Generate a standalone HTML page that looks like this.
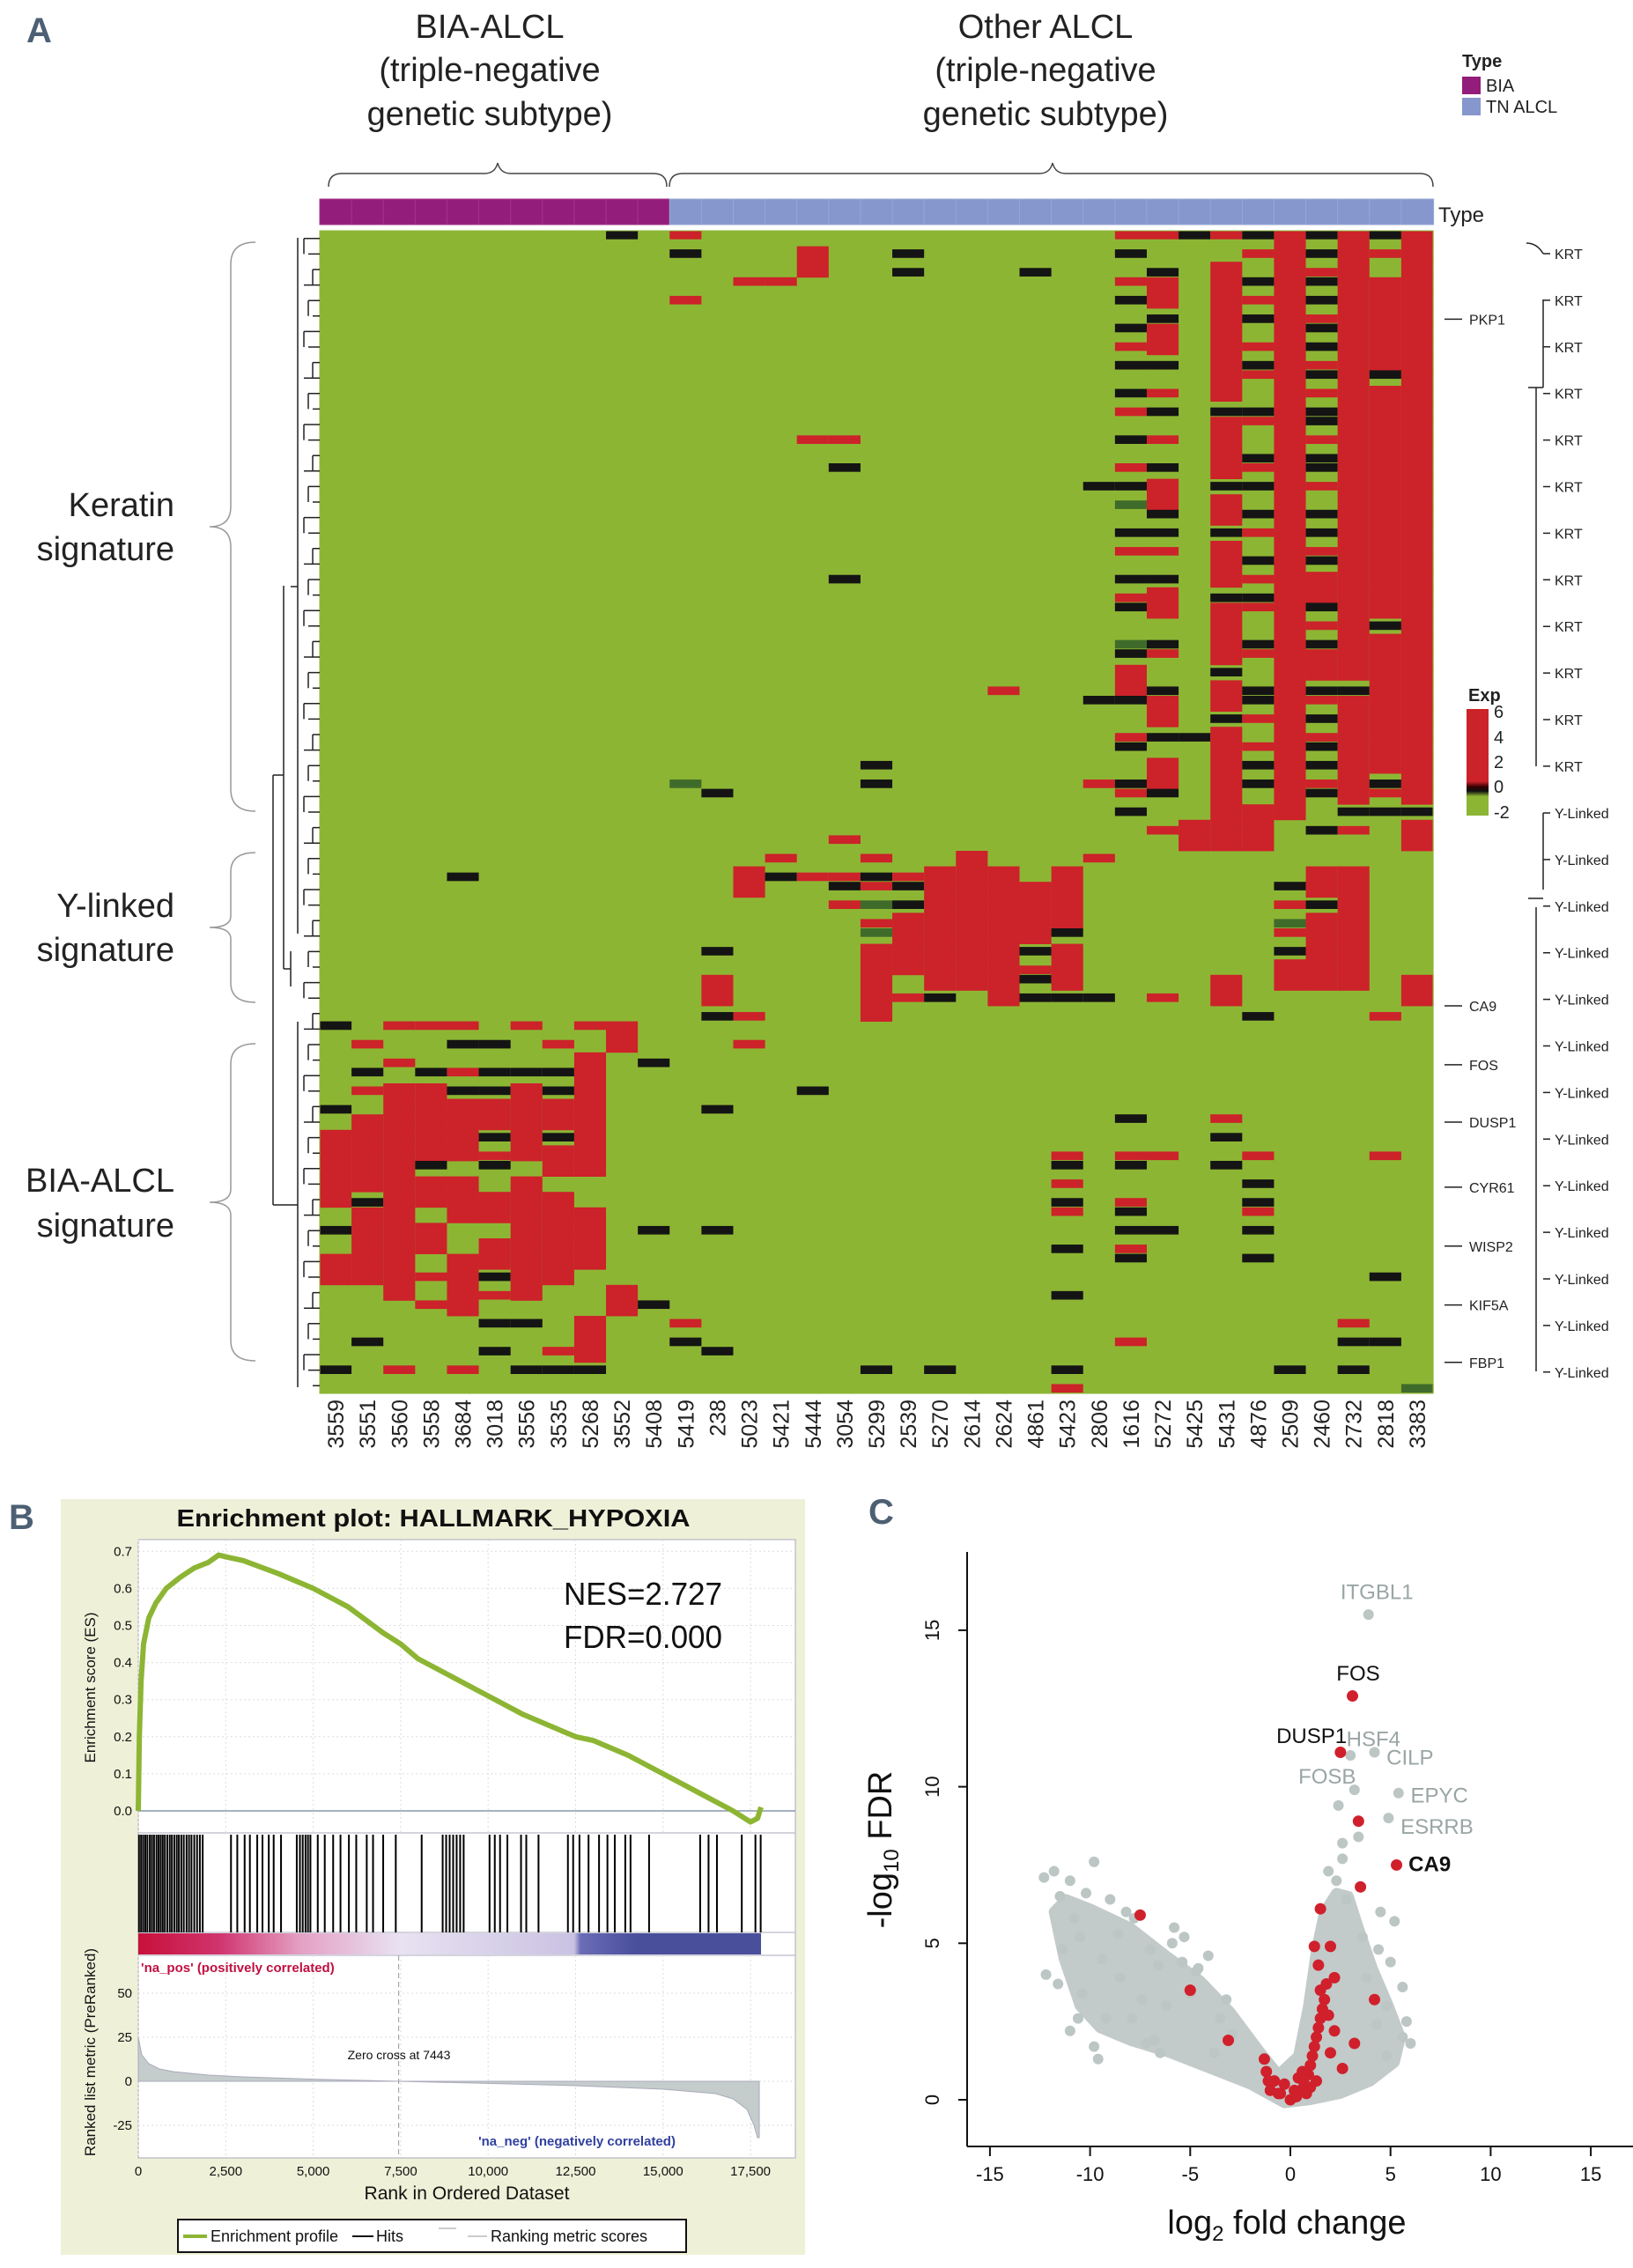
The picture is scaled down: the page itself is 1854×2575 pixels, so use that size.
<!DOCTYPE html>
<html><head><meta charset="utf-8"><style>
html,body{margin:0;padding:0;background:#fff;}
svg{display:block;font-family:"Liberation Sans",sans-serif;}
.nar{font-family:"Liberation Sans Narrow","Liberation Sans",sans-serif;}
</style></head><body>
<svg id="fig" width="1854" height="2575" viewBox="0 0 1854 2575" xmlns="http://www.w3.org/2000/svg">
<g id="panelA">
<text x="30" y="48" font-size="40" font-weight="bold" fill="#4d5f73" class="nar">A</text>
<g font-size="38" fill="#222" text-anchor="middle" class="nar">
<text x="556" y="43">BIA-ALCL</text><text x="556" y="92">(triple-negative</text><text x="556" y="142">genetic subtype)</text></g>
<g font-size="38" fill="#222" text-anchor="middle" class="nar">
<text x="1187" y="43">Other ALCL</text><text x="1187" y="92">(triple-negative</text><text x="1187" y="142">genetic subtype)</text></g>
<path d="M373,212 Q373,197 388,197 L550,197 Q562,197 565,185 Q568,197 580,197 L742,197 Q757,197 757,212" fill="none" stroke="#444" stroke-width="1.5"/>
<path d="M760,212 Q760,197 775,197 L1180,197 Q1192,197 1195,185 Q1198,197 1210,197 L1612,197 Q1627,197 1627,212" fill="none" stroke="#444" stroke-width="1.5"/>
<g id="typebar"></g>
<text x="1633" y="252" font-size="24" fill="#222">Type</text>
<g id="heat"></g>
<g id="collabels" font-size="25" fill="#222"></g>
<g id="dendro" stroke="#222" stroke-width="1.5" fill="none"></g>
<g font-size="38" fill="#222" text-anchor="end" class="nar">
<text x="198" y="586">Keratin</text><text x="198" y="636">signature</text>
<text x="198" y="1041">Y-linked</text><text x="198" y="1091">signature</text>
<text x="198" y="1353">BIA-ALCL</text><text x="198" y="1404">signature</text></g>
<g fill="none" stroke="#999" stroke-width="1.5">
<path d="M290,275 Q262,275 262,300 L262,575 Q262,598 238,598 Q262,598 262,621 L262,896 Q262,921 290,921"/>
<path d="M290,968 Q262,968 262,990 L262,1040 Q262,1053 238,1053 Q262,1053 262,1066 L262,1116 Q262,1138 290,1138"/>
<path d="M290,1185 Q262,1185 262,1208 L262,1350 Q262,1365 238,1365 Q262,1365 262,1380 L262,1522 Q262,1545 290,1545"/></g>
<g>
<text x="1660" y="76" font-size="20" font-weight="bold" fill="#222">Type</text>
<rect x="1660" y="87" width="21" height="20" fill="#931d7a"/>
<text x="1687" y="104" font-size="20" fill="#222">BIA</text>
<rect x="1660" y="111" width="21" height="20" fill="#8597cc"/>
<text x="1687" y="128" font-size="20" fill="#222">TN ALCL</text></g>
<g>
<defs><linearGradient id="expg" x1="0" y1="0" x2="0" y2="1">
<stop offset="0" stop-color="#cc2229"/><stop offset="0.68" stop-color="#cc2229"/><stop offset="0.73" stop-color="#300"/><stop offset="0.77" stop-color="#111"/><stop offset="0.82" stop-color="#8db534"/><stop offset="1" stop-color="#8db534"/></linearGradient></defs>
<text x="1667" y="796" font-size="20" font-weight="bold" fill="#222">Exp</text>
<rect x="1665" y="805" width="25" height="121" fill="url(#expg)"/>
<g font-size="20" fill="#222"><text x="1696" y="815">6</text><text x="1696" y="844">4</text><text x="1696" y="872">2</text><text x="1696" y="900">0</text><text x="1696" y="929">-2</text></g></g>
<g id="rightlabels" font-size="16" fill="#222"></g>
</g>

<g id="panelB">
<text x="10" y="1736" font-size="40" font-weight="bold" fill="#4d5f73" class="nar">B</text>
<rect x="69" y="1702" width="845" height="858" fill="#eff0d8"/>
<text x="492" y="1733" font-size="28" font-weight="bold" text-anchor="middle" fill="#111" textLength="583" lengthAdjust="spacingAndGlyphs" class="nar">Enrichment plot: HALLMARK_HYPOXIA</text>
<rect x="157" y="1748" width="746" height="333" fill="#fff" stroke="#aab"/>
<rect x="157" y="2081" width="746" height="113" fill="#fff" stroke="#aab"/>
<rect x="157" y="2194" width="746" height="26" fill="#fff" stroke="#aab"/>
<rect x="157" y="2220" width="746" height="230" fill="#fff" stroke="#aab"/>
<g id="gsea"></g>
<text x="640" y="1822" font-size="36" fill="#111" textLength="180" lengthAdjust="spacingAndGlyphs" class="nar">NES=2.727</text>
<text x="640" y="1871" font-size="36" fill="#111" textLength="180" lengthAdjust="spacingAndGlyphs" class="nar">FDR=0.000</text>
<text x="160" y="2239" font-size="15" font-weight="bold" fill="#c01040" class="nar">'na_pos' (positively correlated)</text>
<text x="655" y="2436" font-size="15" font-weight="bold" fill="#3040a0" text-anchor="middle" class="nar">'na_neg' (negatively correlated)</text>
<text x="453" y="2338" font-size="14" fill="#111" text-anchor="middle" class="nar">Zero cross at 7443</text>
<text transform="translate(108,1916) rotate(-90)" font-size="17" text-anchor="middle" fill="#111">Enrichment score (ES)</text>
<text transform="translate(108,2330) rotate(-90)" font-size="17" text-anchor="middle" fill="#111">Ranked list metric (PreRanked)</text>
<text x="530" y="2497" font-size="21" text-anchor="middle" fill="#111" textLength="233" lengthAdjust="spacingAndGlyphs" class="nar">Rank in Ordered Dataset</text>
<g>
<rect x="202" y="2520" width="577" height="37" fill="#fff" stroke="#111" stroke-width="2"/>
<line x1="208" y1="2539" x2="235" y2="2539" stroke="#8db534" stroke-width="4"/>
<text x="239" y="2545" font-size="18" fill="#111" class="nar">Enrichment profile</text>
<line x1="400" y1="2539" x2="424" y2="2539" stroke="#111" stroke-width="2"/>
<text x="427" y="2545" font-size="18" fill="#111" class="nar">Hits</text>
<line x1="498" y1="2530" x2="518" y2="2530" stroke="#ccc" stroke-width="2"/>
<line x1="531" y1="2539" x2="553" y2="2539" stroke="#ccc" stroke-width="2"/>
<text x="557" y="2545" font-size="18" fill="#111" class="nar">Ranking metric scores</text></g>
</g>

<g id="panelC">
<text x="986" y="1730" font-size="40" font-weight="bold" fill="#4d5f73" class="nar">C</text>
<g id="volc"></g>
<text transform="translate(1012,2100) rotate(-90)" font-size="38" text-anchor="middle" fill="#111">-log<tspan font-size="24" dy="8">10</tspan><tspan dy="-8"> FDR</tspan></text>
<text x="1461" y="2536" font-size="38" text-anchor="middle" fill="#111" class="nar">log<tspan font-size="24" dy="8">2</tspan><tspan dy="-8"> fold change</tspan></text>
</g>
</svg>
<script>
const NS='http://www.w3.org/2000/svg';
function mk(tag,attrs,parent){const e=document.createElementNS(NS,tag);for(const k in attrs)e.setAttribute(k,attrs[k]);parent.appendChild(e);return e;}

/* ---------- Panel A data ---------- */
const sampleIds=['3559','3551','3560','3558','3684','3018','3556','3535','5268','3552','5408','5419','238','5023','5421','5444','3054','5299','2539','5270','2614','2624','4861','5423','2806','1616','5272','5425','5431','4876','2509','2460','2732','2818','3383'];
const sampleTypes=['BIA','BIA','BIA','BIA','BIA','BIA','BIA','BIA','BIA','BIA','BIA','TN','TN','TN','TN','TN','TN','TN','TN','TN','TN','TN','TN','TN','TN','TN','TN','TN','TN','TN','TN','TN','TN','TN','TN'];
const G39='ggggggggggggggggggggggggggggggggggggggg', G12='gggggggggggg', G24='gggggggggggggggggggggggg';
const keratinPart=[G39,G39,G39,G39,G39,G39,G39,G39,G39,'kgggggggggggggggggggggggggggggggggggggg',G39,
'rkggrggggggggggggggggggggggggggggggdggg','ggggggggggggggggggggggggggggggggggggkgg','gggrggggggggggggggggggggggggggggggggggg','gggrggggggggggggggggggggggggggggggggggg','grrggggggggggrggggggggggggggggggggggggg','gggggggggggggrgkggggggkggggggggggggggggr',
'ggggggggggggggggggggggggggggggggggkkgg','gkkgggggggggggggggggggggggggggggggggggg',G39,G39,'gggggggggggggggggggggggggggggrggggggggg','ggkgggggggggggggggggggggggggggggggggggg',G39,'ggggggggggggggggkgggggggggggggkggggrggg',
'rkgrkgkrkgkrgkgrkdgkrgkrkgdkrrkgrkgkrkg','rgkrrkrrkgrkgrgkrrkkrgkrrgkrgkrrkgrrkgr','kgggggggggggggggggggggggggggggggkgggggr','rgrrrrrrrrrkrrrrkrrkrrrkrrrrkrrkrrrrrrr','krgkrkgrkrgkrgkrkgkrgkrkrgkrgkkrgrkkgrr','rrrrrrrrrrrrrrrrrrrrrrrrrrrrrrrrrrrrrrg','kkrkkrkkrkrkkrkkrgkkrkrrkrkrrkrkrkkrkgk','rrrrrrrrrrrrrrrrrrrrrrrrrrrrrkrrrrrrrkr','krgrrrrrrkrrrrrrrrrrrrrrrkrrrrrrrrrkrkg','rrrrrrrrrrrrrrrrrrrrrrrrrrrrrrrrrrrrrkr'];
const ylinkPart=[G12,G12,G12,G12,'ggkggggggggg',G12,G12,G12,G12,G12,G12,G12,'gggggggkgrrk','ggrrgggggggr','grkggggggggg','ggrggggggggg','rgrkrggggggg','grkrdrdrrrrr','ggrkkrrrrgrg','ggrrrrrrrrkg','grrrrrrrrrgg','ggrrrrrrrrrg','gggrrrrkrkkg','ggrrrrkrrrkg','grggggggggkg',G12,'ggggggggggrg','rggggggggggg','rggggggggrrg','rggggggggggk','gggkrdrkrrgg','ggrrkrrrrrgg','ggrrrrrrrrgg','gggggggggggr','rggggggggrrg'];
const biaPart=['kggggkgrrrrrgkgrrgggggkg','grgkrgrrrrrkrrrrrgggkggg','rgrgrrrrrrrrrrrrrrggggrg','rggkrrrrrkrrgrrgrgrggggg','rkgrkrrrrgrrrggrrrrgggrg','gkgkkrrkrkgrrgrrkrgkgkgg','rggkrrrrrgrrrrrrrrgkggkg','grgkkrrkrrgrrrrrrggggrkg','rgrrrrrrrrggrrrrgggrrrkg','rrgggggggggggggggrrggggg','ggkggggggggggkggggkggggg',
'gggggggggggggggggggrkggg','gggggkgggggggkgggggggkgg','grgggggggggggggggggggggg',G24,'ggggkggggggggggggggggggg',G24,'ggggggggggggggggggggggkg',G24,'ggggggggggggggggggggggkg',G24,G24,G24,'ggggggggrkrkrgkggkggggkr',G24,'ggggggkgrkgrkkrkggggrggg','ggggggggrggggkgggggggggg',G24,'ggggggrkgkgggggggggggggg','ggggggggrgkkrkgkgggggggg','ggggggggggggggggggggggkg',G24,'gggggggggggggggggggrkgkg','ggggggggrgggggggkgggkggg','gggggggggggggggggggggggd'];
const exprColors={g:'#8db534',r:'#cc2229',k:'#141414',d:'#3f6b2a'};
const rightKRT=['KRT','KRT','KRT','KRT','KRT','KRT','KRT','KRT','KRT','KRT','KRT','KRT'];
const rightY=['Y-Linked','Y-Linked','Y-Linked','Y-Linked','Y-Linked','Y-Linked','Y-Linked','Y-Linked','Y-Linked','Y-Linked','Y-Linked','Y-Linked','Y-Linked'];
const geneNames=['PKP1','CA9','FOS','DUSP1','CYR61','WISP2','KIF5A','FBP1'];
const geneRows=[5.7,50.0,53.8,57.5,61.7,65.5,69.3,73.0];

const HX0=363,HX1=1627,HY0=262,HY1=1582,NSEG=75;
const cw=(HX1-HX0)/sampleIds.length, sh=(HY1-HY0)/NSEG;
const heat=document.getElementById('heat');
const typebar=document.getElementById('typebar');
const cl=document.getElementById('collabels');
sampleIds.forEach((id,i)=>{
  const x=HX0+i*cw;
  const tb=mk('rect',{x:x,y:226,width:cw+0.6,height:29,fill:sampleTypes[i]==='BIA'?'#931d7a':'#8597cc',stroke:sampleTypes[i]==='BIA'?'#a3358a':'#97a7d6','stroke-width':1},typebar);
  
  
  let s=(keratinPart[i]+G39).slice(0,39)+(ylinkPart[i]+G12).slice(0,12)+(biaPart[i]+G24).slice(0,24);
  mk('rect',{x:x,y:HY0,width:cw+0.6,height:HY1-HY0,fill:exprColors.g},heat);
  for(let j=0;j<NSEG;j++){
    const c=s[j];
    if(c==='g')continue;
    const thin=(c==='k'||c==='d');
    const prevSame=j>0&&s[j-1]===c, nextSame=j<NSEG-1&&s[j+1]===c;
    let y=HY0+j*sh, h=sh+0.4;
    if(thin||(!prevSame&&!nextSame)){h=sh*0.55;y+=sh*((j*7)%3)*0.2;}
    const r=mk('rect',{x:x,y:y,width:cw+0.6,height:h,fill:exprColors[c]},heat);
    
    
  }
  const t=mk('text',{transform:`translate(${x+cw/2+9},1589) rotate(-90)`,'text-anchor':'end'},cl);
  t.textContent=id;
  
  
});
mk('rect',{x:HX0,y:HY0,width:HX1-HX0,height:HY1-HY0,fill:'none',stroke:'#8db534'},heat);

/* dendrogram */
const dd=document.getElementById('dendro');
let p='';
for(let j=0;j<NSEG;j++){const y=HY0+(j+0.5)*sh;const lx=345+(j%3)*5;p+=`M${lx},${y}H363`;if(j%2===0&&j<NSEG-1)p+=`M${lx},${y}V${y+sh}`;}
p+='M338,270V1060M330,1080V1120M338,1160V1575';
p+='M330,666H338M322,665V1100M322,1100H330M310,880V1368M310,880H322M310,1368H338';
mk('path',{d:p},dd);

/* right annotations */
const rl=document.getElementById('rightlabels');
let rp='';
rightKRT.forEach((lab,i)=>{const y=288+52.9*i;const t=mk('text',{x:1765,y:y+6},rl);t.textContent=lab;rp+=`M1760,${y}H1752`;});
rightY.forEach((lab,i)=>{const y=923+52.9*i;const t=mk('text',{x:1765,y:y+6},rl);t.textContent=lab;rp+=`M1760,${y}H1752`;});
rp+='M1733,276Q1745,276 1752,288M1752,340V440M1744,440V870M1752,923V1010M1744,1030V1557M1735,440H1752M1735,1020H1752';
geneNames.forEach((g,i)=>{const y=HY0+geneRows[i]*sh;const t=mk('text',{x:1668,y:y+6},rl);t.textContent=g;rp+=`M1640,${y}H1660`;});
mk('path',{d:rp,stroke:'#222','stroke-width':1.5,fill:'none'},rl);

/* ---------- Panel B data ---------- */
const esRank=[0,30,80,150,300,500,800,1200,1600,2000,2300,2500,3000,4000,5000,6000,7000,7500,8000,9000,10000,11000,12000,12500,13000,14000,15000,16000,17000,17500,17700,17800];
const esValue=[0,0.2,0.35,0.45,0.52,0.56,0.6,0.63,0.655,0.67,0.69,0.685,0.675,0.64,0.6,0.55,0.48,0.45,0.41,0.36,0.31,0.26,0.22,0.2,0.19,0.15,0.1,0.05,0.0,-0.03,-0.02,0.01];
const hitRanks=[20,80,140,200,260,330,390,450,520,580,640,700,760,830,900,960,1030,1100,1160,1230,1300,1380,1450,1520,1600,1680,1760,1840,2650,2830,3040,3190,3400,3550,3730,3870,4080,4530,4620,4700,4780,4850,4920,5130,5330,5570,5780,6020,6230,6530,6710,7000,7360,8100,8700,8800,8900,9000,9100,9200,9300,10040,10190,10340,10550,10940,11090,11440,12280,12430,12610,12870,13170,13410,13620,13920,14070,14600,16060,16300,16540,17250,17640,17790];
const metricRank=[0,100,300,600,1000,2000,3000,5000,7443,10000,12500,15000,16500,17000,17400,17600,17700,17750];
const metricValue=[25,15,10,7,5.5,3.5,2.5,1.2,0,-1.2,-2.5,-4.5,-7,-10,-16,-25,-32,-32];
const esTicks=[0,0.1,0.2,0.3,0.4,0.5,0.6,0.7];
const esTickLabels=['0.0','0.1','0.2','0.3','0.4','0.5','0.6','0.7'];
const metricTicks=[50,25,0,-25];
const rankTicks=[0,2500,5000,7500,10000,12500,15000,17500];
const rankTickLabels=['0','2,500','5,000','7,500','10,000','12,500','15,000','17,500'];

const xR=r=>157+r*(99.3/2500);
const yES=v=>2056-v*421;
const yM=v=>2363-v*2.0;
const gs=document.getElementById('gsea');
esTicks.forEach((v,i)=>{
  mk('line',{x1:157,x2:903,y1:yES(v),y2:yES(v),stroke:'#ddd','stroke-dasharray':'2,3'},gs);
  const t=mk('text',{x:150,y:yES(v)+5,'font-size':15,'text-anchor':'end',fill:'#111'},gs);t.textContent=esTickLabels[i];
  
  
});
mk('line',{x1:157,x2:903,y1:yES(0),y2:yES(0),stroke:'#8899aa','stroke-width':1.5},gs);
rankTicks.forEach((r,i)=>{
  mk('line',{x1:xR(r),x2:xR(r),y1:1748,y2:2081,stroke:'#ddd','stroke-dasharray':'2,3'},gs);
  mk('line',{x1:xR(r),x2:xR(r),y1:2220,y2:2450,stroke:'#ddd','stroke-dasharray':'2,3'},gs);
  const t=mk('text',{x:xR(r),y:2470,'font-size':15,'text-anchor':'middle',fill:'#111'},gs);t.textContent=rankTickLabels[i];
  
  
});
metricTicks.forEach(v=>{
  mk('line',{x1:157,x2:903,y1:yM(v),y2:yM(v),stroke:'#ddd','stroke-dasharray':'2,3'},gs);
  const t=mk('text',{x:150,y:yM(v)+5,'font-size':15,'text-anchor':'end',fill:'#111'},gs);t.textContent=String(v);
  
  
});
const cg=mk('defs',{},gs);
cg.innerHTML='<linearGradient id="rg" x1="0" x2="1"><stop offset="0" stop-color="#c8103a"/><stop offset="0.13" stop-color="#d0346e"/><stop offset="0.26" stop-color="#e4a0c4"/><stop offset="0.42" stop-color="#e8e2f2"/><stop offset="0.7" stop-color="#cac2e2"/><stop offset="0.71" stop-color="#6a6cb6"/><stop offset="0.8" stop-color="#4a4f9c"/><stop offset="1" stop-color="#4a4f9c"/></linearGradient>';
const cb=mk('rect',{x:157,y:2195,width:xR(17800)-157,height:24,fill:'url(#rg)'},gs);


hitRanks.forEach(r=>{
  const l=mk('line',{x1:xR(r),x2:xR(r),y1:2083,y2:2194,stroke:'#000','stroke-width':2},gs);
  
  
});
let mp=`M${xR(0)},${yM(0)}`;
metricRank.forEach((r,i)=>{mp+=`L${xR(r)},${yM(metricValue[i])}`;});
mp+=`L${xR(metricRank[metricRank.length-1])},${yM(0)}Z`;
const ma=mk('path',{d:mp,fill:'#c4cccc',stroke:'#aab'},gs);


mk('line',{x1:xR(7443),x2:xR(7443),y1:2220,y2:2450,stroke:'#999','stroke-dasharray':'6,4'},gs);
const ep=mk('polyline',{points:esRank.map((r,i)=>`${xR(r)},${yES(esValue[i])}`).join(' '),fill:'none',stroke:'#8db534','stroke-width':6,'stroke-linejoin':'round'},gs);



/* ---------- Panel C data ---------- */
const cloudOutlineX=[-0.3,-2,-4,-6,-8,-9.5,-10.5,-11.3,-11.8,-11.2,-10,-8,-6.2,-4.5,-3,-1.6,-0.6,0.4,0.9,1.3,1.7,2.3,2.9,3.4,4.1,4.9,5.5,5.2,4,2.5,1];
const cloudOutlineY=[-0.1,0.5,1.0,1.5,1.9,2.3,3,4.5,6,6.4,6.1,5.5,4.6,3.8,2.8,1.6,0.8,1.4,3,4.8,6,6.6,6.5,5.5,4.2,3,2,1.2,0.6,0.2,0];
const grayX=[-12.3,-11.8,-11.5,-11,-10.8,-10.5,-10.2,-9.8,-9.4,-9,-8.6,-8.2,-7.8,-7.4,-7,-6.6,-6.2,-5.8,-5.4,-5,-4.6,-12.2,-11.6,-11,-10.4,-9.8,-9.2,-8.5,-7.9,-7.2,-6.5,-5.9,-5.3,-4.7,-4.1,-3.5,-2.9,-10.6,-9.6,-11.4,-6.8,-3.8,-3.2,3.9,3,4.2,3.2,5.4,4.9,2.4,3.4,2.6,2.3,4.5,5.2,5.6,6,5.8,4.8,4.4,3.8,5,2.8,3.6,1.9,2.6,4.3,4.8,5.6];
const grayY=[7.1,7.3,6.5,7.0,5.8,5.2,6.6,7.6,4.5,6.4,5.3,6.0,5.8,3.2,4.8,4.3,3.0,5.5,4.4,3.4,4.2,4.0,3.7,2.2,3.4,1.7,2.6,3.9,2.6,1.8,1.5,5.0,5.2,4.1,4.6,2.6,2.1,2.6,1.3,4.8,1.9,1.5,3.2,15.5,11.0,11.1,9.9,9.8,9.0,9.4,8.4,7.7,7.0,6.0,5.7,2.0,1.8,2.5,3.0,4.8,3.9,4.4,6.4,5.2,7.3,8.2,2.4,1.4,3.6];
const redX=[3.1,2.5,3.4,5.3,3.5,1.5,1.2,2.0,1.4,4.2,-5.0,-3.1,-7.5,-1.0,-0.8,-1.2,-0.5,0,0.3,0.5,0.7,0.9,1.0,1.1,1.2,1.3,1.4,1.5,1.6,1.7,1.5,1.8,2.2,0.6,0.8,1.3,2.0,2.2,1.9,1.0,-0.3,-1.3,-1.1,3.2,2.6,0.2,0.4,-0.6];
const redY=[12.9,11.1,8.9,7.5,6.8,6.1,4.9,4.9,4.3,3.2,3.5,1.9,5.9,0.3,0.6,0.9,0.2,0,0.1,0.3,0.5,0.8,1.1,1.4,1.7,2.0,2.3,2.6,2.9,3.2,3.5,3.7,3.9,0.9,0.2,0.6,1.5,2.2,2.7,0.4,0.5,1.3,0.6,1.8,1.0,0.3,0.7,0.2];
const labelNames=['ITGBL1','FOS','DUSP1','HSF4','CILP','FOSB','EPYC','ESRRB','CA9'];
const labelX=[3.9,3.1,2.5,3.0,4.2,3.2,5.4,4.9,5.3];
const labelY=[15.5,12.9,11.1,11.0,11.1,9.9,9.8,9.0,7.5];
const labelColor=['#9aa5a5','#111','#111','#9aa5a5','#9aa5a5','#9aa5a5','#9aa5a5','#9aa5a5','#111'];
const labelDX=[-1.4,-0.8,-3.2,-0.2,0.6,-2.8,0.6,0.6,0.6];
const labelDY=[0.5,0.5,0.3,0.3,-0.4,0.2,-0.3,-0.5,-0.2];
const xTicksV=[-15,-10,-5,0,5,10,15];
const yTicksV=[0,5,10,15];

const xV=v=>1465+v*22.74;
const yV=v=>2384-v*35.54;
const vc=document.getElementById('volc');
mk('line',{x1:1098,y1:1762,x2:1098,y2:2437,stroke:'#111','stroke-width':2},vc);
mk('line',{x1:1098,y1:2437,x2:1854,y2:2437,stroke:'#111','stroke-width':2},vc);
xTicksV.forEach(v=>{
  mk('line',{x1:xV(v),x2:xV(v),y1:2437,y2:2448,stroke:'#111','stroke-width':2},vc);
  const t=mk('text',{x:xV(v),y:2476,'font-size':22,'text-anchor':'middle',fill:'#111'},vc);t.textContent=String(v);
  
  
});
yTicksV.forEach(v=>{
  mk('line',{x1:1098,x2:1088,y1:yV(v),y2:yV(v),stroke:'#111','stroke-width':2},vc);
  const t=mk('text',{transform:`translate(1066,${yV(v)}) rotate(-90)`,'font-size':22,'text-anchor':'middle',fill:'#111'},vc);t.textContent=String(v);
  
  
});
const cloud=mk('polygon',{points:cloudOutlineX.map((x,i)=>`${xV(x)},${yV(cloudOutlineY[i])}`).join(' '),fill:'#c2cbc9',stroke:'#c2cbc9','stroke-width':12,'stroke-linejoin':'round'},vc);


grayX.forEach((x,i)=>{
  const c=mk('circle',{cx:xV(x),cy:yV(grayY[i]),r:6,fill:'#bcc6c4'},vc);
  
  
});
redX.forEach((x,i)=>{
  const c=mk('circle',{cx:xV(x),cy:yV(redY[i]),r:6.5,fill:'#d0202c'},vc);
  
  
});
labelNames.forEach((n,i)=>{
  const t=mk('text',{x:xV(labelX[i]+labelDX[i]),y:yV(labelY[i]+labelDY[i]),'font-size':24,fill:labelColor[i],'font-weight':n==='CA9'?'bold':'normal'},vc);
  t.textContent=n;
  
  
});
</script>
</body></html>
